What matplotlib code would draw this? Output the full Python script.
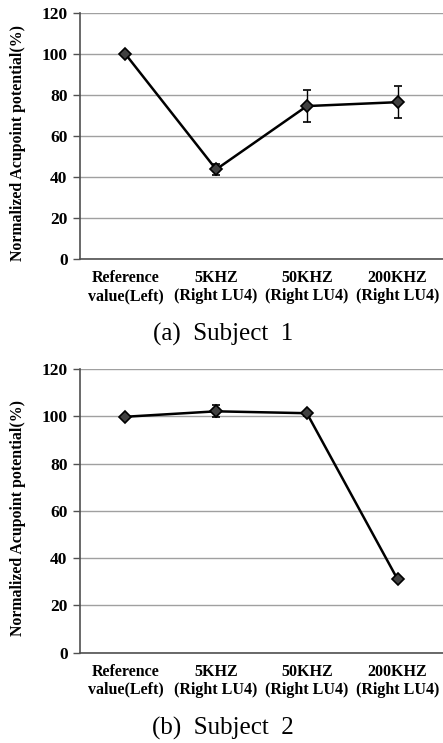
import matplotlib
matplotlib.use("Agg")
import matplotlib.pyplot as plt

categories = ["Reference\nvalue(Left)", "5KHZ\n(Right LU4)", "50KHZ\n(Right LU4)", "200KHZ\n(Right LU4)"]
s1_values = [100, 43.7, 74.6, 76.5]
s1_errors = [0, 2.5, 7.8, 7.8]
s2_values = [99.8, 102.1, 101.3, 31.0]
s2_errors = [0, 2.5, 1.0, 0]
y_ticks = [0, 20, 40, 60, 80, 100, 120]
captions = ["(a)  Subject  1", "(b)  Subject  2"]
ylabel = "Normalized Acupoint potential(%)"

W, H = 443, 743
fig = plt.figure(figsize=(W/100, H/100), dpi=100)

serif = ["Liberation Serif", "DejaVu Serif"]

def panel(rect, vals, errs, cap, cap_y, label_y):
    ax = fig.add_axes(rect)
    x = list(range(len(categories)))
    ax.errorbar(x, vals, yerr=errs, color="black", lw=1.8, marker="D", ms=6,
                mfc="#404040", mec="black", mew=1.2, ecolor="black", elinewidth=1.0,
                capsize=3, capthick=1.0, zorder=3)
    ax.set_xlim(-0.5, 3.5)
    ax.set_ylim(0, 120)
    ax.set_yticks(y_ticks)
    ax.set_yticklabels([str(t) for t in y_ticks], family=serif, fontweight="bold", fontsize=12.5)
    ax.set_xticks(x)
    ax.set_xticklabels(categories, family=serif, fontweight="bold", fontsize=11.5, linespacing=1.15)
    ax.tick_params(axis="x", length=0, pad=8)
    ax.tick_params(axis="y", length=5, width=1, color="#505050", pad=4)
    ax.yaxis.grid(True, color="#a0a0a0", lw=1)
    ax.set_axisbelow(True)
    for s in ["top", "right"]:
        ax.spines[s].set_visible(False)
    for s in ["left", "bottom"]:
        ax.spines[s].set_color("#505050")
        ax.spines[s].set_linewidth(1.2)
    ax.set_ylabel(ylabel, family=serif, fontweight="bold", fontsize=11.4)
    ax.yaxis.set_label_coords(-(80-26)/(443-80), label_y)
    fig.text(223/W, 1 - cap_y/H, cap, family=serif, fontsize=18, ha="center", va="center")
    return ax

panel([80/W, 1-259/H, 1-80/W, (259-13)/H], s1_values, s1_errors, captions[0], 334, 0.472)
panel([80/W, 1-652.7/H, 1-80/W, (652.7-369)/H], s2_values, s2_errors, captions[1], 728, 0.476)

fig.savefig("out.png", dpi=100)
